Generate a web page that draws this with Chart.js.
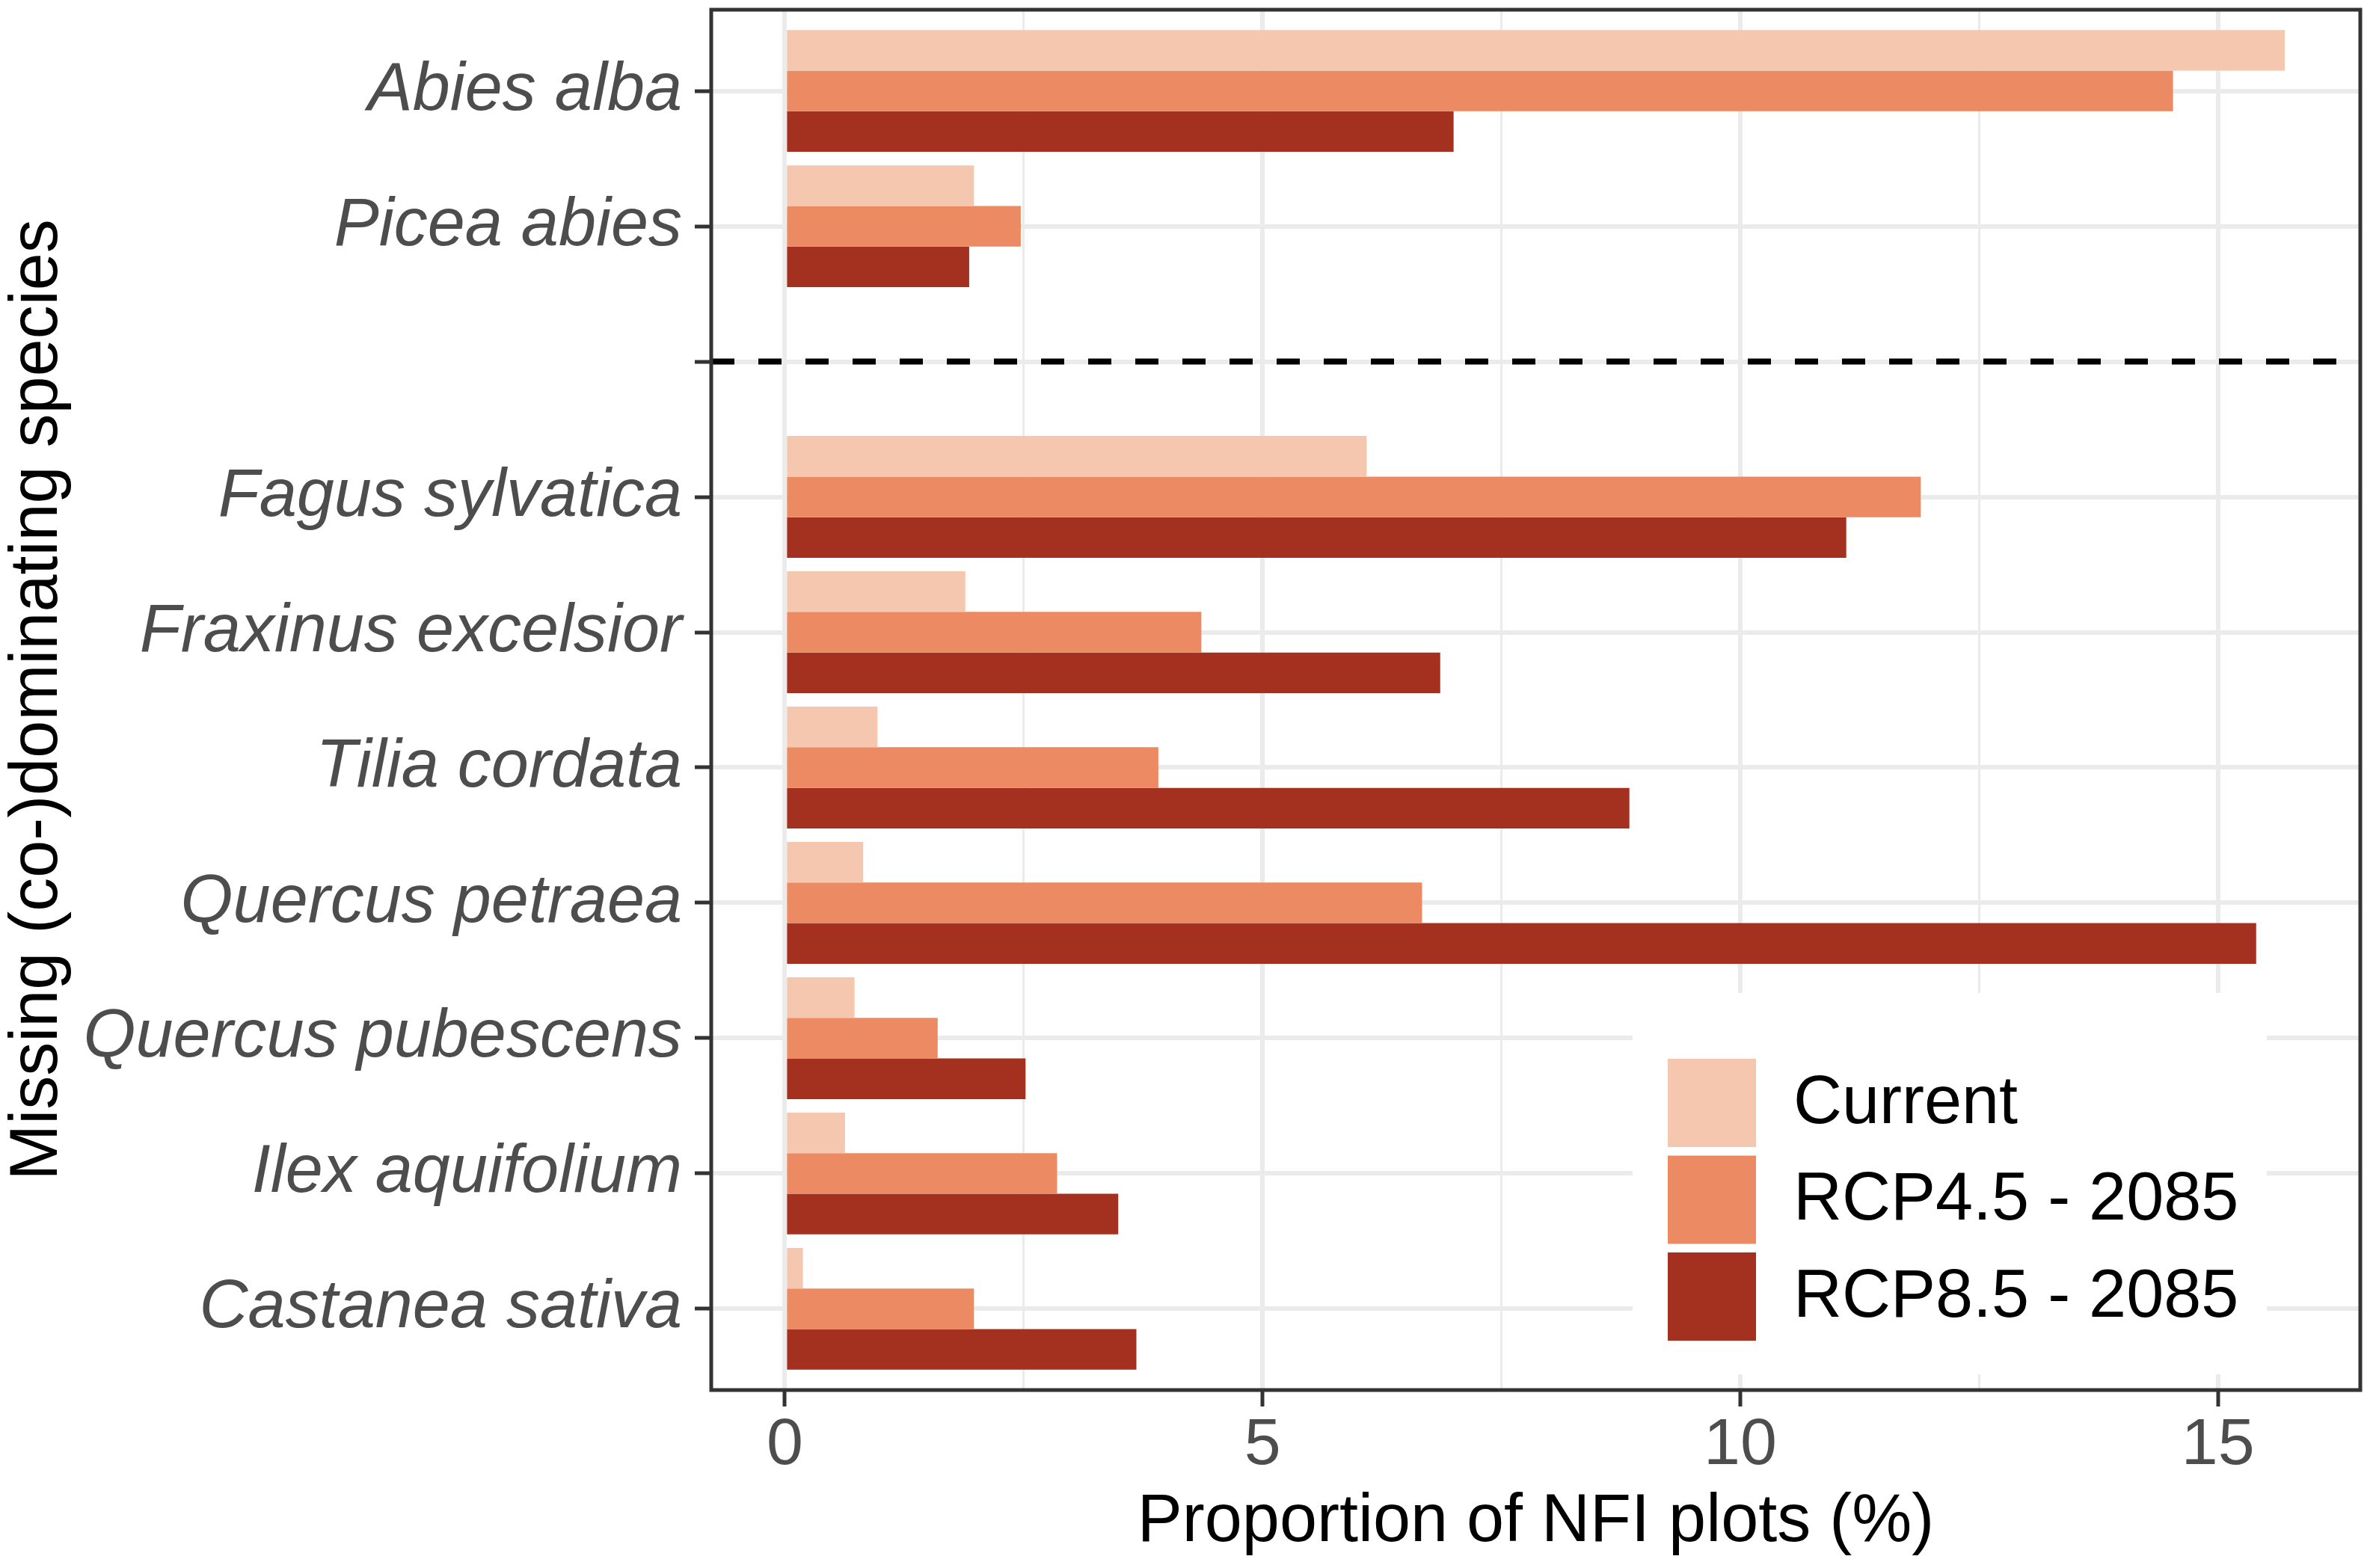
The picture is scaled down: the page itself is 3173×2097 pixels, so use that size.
<!DOCTYPE html>
<html>
<head>
<meta charset="utf-8">
<title>Missing (co-)dominating species</title>
<script src="https://cdn.jsdelivr.net/npm/chart.js@4"></script>
<style>
  html, body { margin: 0; padding: 0; background: #fff; }
  canvas { display: block; }
</style>
</head>
<body>
<canvas id="chart" width="3173" height="2097"></canvas>
<script>
// species in plotting order, '' is the empty slot where the dashed divider goes
const categories = [
  'Abies alba', 'Picea abies', '',
  'Fagus sylvatica', 'Fraxinus excelsior', 'Tilia cordata', 'Quercus petraea',
  'Quercus pubescens', 'Ilex aquifolium', 'Castanea sativa'
];
const current = [15.70, 1.98, null, 6.09, 1.89, 0.97, 0.82, 0.73, 0.63, 0.19];
const rcp45   = [14.53, 2.47, null, 11.89, 4.36, 3.91, 6.67, 1.60, 2.85, 1.98];
const rcp85   = [7.00, 1.93, null, 11.11, 6.86, 8.84, 15.40, 2.52, 3.49, 3.68];
const seriesNames = ['Current', 'RCP4.5 - 2085', 'RCP8.5 - 2085'];
const seriesColors = ['#F4C7AE', '#EB8A63', '#A4301F'];
const xMajor = [0, 5, 10, 15];
const xMinor = [2.5, 7.5, 12.5];

const FONT = '"Liberation Sans", Arial, sans-serif';

const toPoints = vals => vals
  .map((v, i) => (v === null ? null : { x: v, y: i }))
  .filter(p => p !== null);

const dividerIndex = categories.indexOf('');

const panelPlugin = {
  id: 'panel',
  afterDatasetsDraw(chart) {
    const { ctx, chartArea, scales } = chart;
    const yy = scales.y.getPixelForValue(dividerIndex);
    ctx.save();
    ctx.strokeStyle = '#000';
    ctx.lineWidth = 8;
    ctx.setLineDash([31, 32]);
    ctx.beginPath();
    ctx.moveTo(chartArea.left, yy);
    ctx.lineTo(chartArea.right, yy);
    ctx.stroke();
    ctx.restore();
  },
  afterDraw(chart) {
    const { ctx, chartArea } = chart;
    // legend inside the panel, bottom right
    const bx = chartArea.right - 973, by = chartArea.bottom - 531;
    ctx.save();
    ctx.fillStyle = '#fff';
    ctx.fillRect(bx, by, 848, 510);
    ctx.font = '90px ' + FONT;
    ctx.textBaseline = 'middle';
    ctx.textAlign = 'left';
    seriesNames.forEach((name, i) => {
      const ky = by + 88 + i * 129.5;
      ctx.fillStyle = seriesColors[i];
      ctx.fillRect(bx + 47, ky, 118, 118);
      ctx.fillStyle = '#000';
      ctx.fillText(name, bx + 215, ky + 61);
    });
    // panel border
    ctx.strokeStyle = '#333333';
    ctx.lineWidth = 5;
    ctx.strokeRect(chartArea.left, chartArea.top, chartArea.right - chartArea.left, chartArea.bottom - chartArea.top);
    ctx.restore();
  }
};

new Chart(document.getElementById('chart'), {
  type: 'bar',
  data: {
    datasets: [
      { label: seriesNames[0], data: toPoints(current), backgroundColor: seriesColors[0] },
      { label: seriesNames[1], data: toPoints(rcp45), backgroundColor: seriesColors[1] },
      { label: seriesNames[2], data: toPoints(rcp85), backgroundColor: seriesColors[2] }
    ]
  },
  options: {
    indexAxis: 'y',
    responsive: false,
    devicePixelRatio: 1,
    animation: false,
    layout: { padding: { top: 13, right: 17, bottom: 0, left: 0 } },
    datasets: { bar: { categoryPercentage: 0.9, barPercentage: 1.0, borderWidth: 0 } },
    plugins: {
      legend: { display: false },
      tooltip: { enabled: false }
    },
    scales: {
      x: {
        type: 'linear',
        position: 'bottom',
        min: -0.77,
        max: 16.49,
        offset: false,
        afterBuildTicks: axis => {
          axis.ticks = [...xMajor, ...xMinor].sort((a, b) => a - b).map(v => ({ value: v }));
        },
        afterFit: axis => {
          axis.height = 238;
          axis.paddingLeft = 0;
          axis.paddingRight = 0;
        },
        border: { display: false },
        grid: {
          offset: false,
          color: '#EBEBEB',
          lineWidth: c => (xMajor.includes(c.tick.value) ? 6 : 3),
          tickLength: 22,
          tickWidth: 5,
          tickColor: c => (xMajor.includes(c.tick.value) ? '#333333' : 'rgba(0,0,0,0)')
        },
        ticks: {
          autoSkip: false,
          maxRotation: 0,
          padding: 0,
          color: '#4D4D4D',
          font: { family: FONT, size: 88, lineHeight: 1.2 },
          callback: v => (xMajor.includes(v) ? String(v) : '')
        },
        title: {
          display: true,
          text: 'Proportion of NFI plots (%)',
          color: '#000',
          font: { family: FONT, size: 90, lineHeight: 1 },
          padding: { top: 0, bottom: 16 }
        }
      },
      y: {
        type: 'linear',
        reverse: true,
        min: -0.6,
        max: 9.6,
        offset: false,
        afterBuildTicks: axis => {
          axis.ticks = categories.map((c, i) => ({ value: i }));
        },
        afterFit: axis => {
          axis.width = 951;
          axis.paddingTop = 0;
          axis.paddingBottom = 0;
        },
        border: { display: false },
        grid: {
          offset: false,
          color: '#EBEBEB',
          lineWidth: 6,
          tickLength: 22,
          tickWidth: 5,
          tickColor: '#333333'
        },
        ticks: {
          autoSkip: false,
          padding: 17,
          color: '#4D4D4D',
          font: { family: FONT, size: 90, style: 'italic' },
          callback: v => categories[v] ?? ''
        },
        title: {
          display: true,
          text: 'Missing (co-)dominating species',
          color: '#000',
          font: { family: FONT, size: 90, lineHeight: 1 },
          padding: { top: 6, bottom: 0 }
        }
      }
    }
  },
  plugins: [panelPlugin]
});
</script>
</body>
</html>
